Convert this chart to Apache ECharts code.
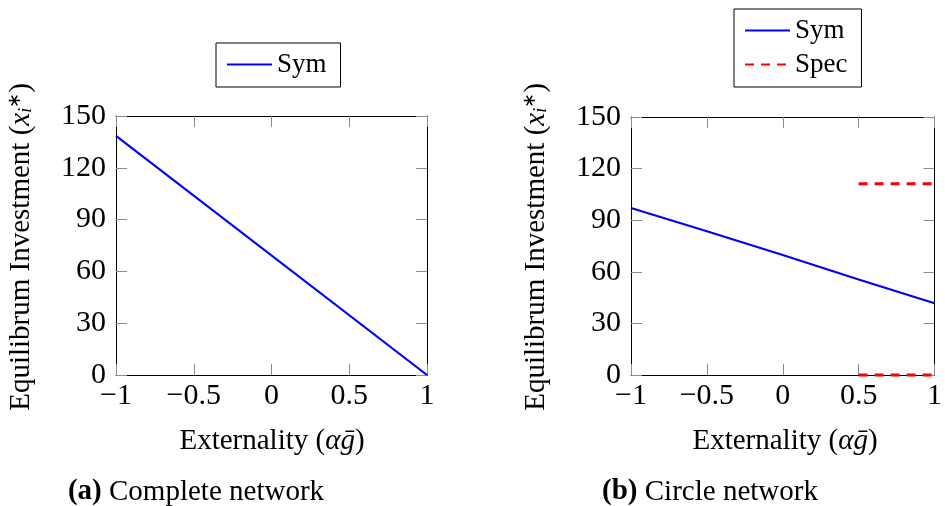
<!DOCTYPE html>
<html>
<head>
<meta charset="utf-8">
<script src="https://cdn.jsdelivr.net/npm/echarts@6/dist/echarts.min.js"></script>
<style>
html,body{margin:0;padding:0;background:#fff;}
#c{width:945px;height:506px;}
</style>
</head>
<body>
<div id="c"></div>
<script>
// ---- data ----
const xMin = -1, xMax = 1, xStep = 0.5;
const yMin = 0, yMax = 150, yStep = 30;

const completeX = [-1, 1];
const completeSym = [138.5, 0];

const circleX = [-1, -0.5, 0, 0.5, 1];
const circleSym = [97.1, 83.6, 69.8, 55.5, 41.7];

const specX = [0.5, 1];
const specHigh = [111.2, 111.2];
const specLow = [0, 0];

const captions = [['(a)', 'Complete network'], ['(b)', 'Circle network']];
const xLabel = 'Externality';
const yLabel = 'Equilibrum Investment';

// ---- helpers ----
const FONT = '"Liberation Serif", "Times New Roman", serif';
const pairs = (xs, ys) => xs.map((x, i) => [x, ys[i]]);
const fmt = v => (v < 0 ? '\u2212' + Math.abs(v) : String(v));

const grids = [
  { left: 116, top: 116, width: 311, height: 259 },
  { left: 631, top: 117, width: 311, height: 258 }
];

const xAxes = [], yAxes = [];
grids.forEach((g, gi) => {
  xAxes.push({
    type: 'value', gridIndex: gi, min: xMin, max: xMax, interval: xStep, position: 'bottom',
    axisLine: { show: true, onZero: false, lineStyle: { color: '#000', width: 1 } },
    axisTick: { show: true, inside: true, length: 11, lineStyle: { color: '#8c8c8c', width: 1 } },
    axisLabel: { show: true, margin: 6, color: '#000', fontFamily: FONT, fontSize: 30, formatter: fmt, showMinLabel: true, showMaxLabel: true },
    splitLine: { show: false }
  });
  xAxes.push({
    type: 'value', gridIndex: gi, min: xMin, max: xMax, interval: xStep, position: 'top',
    axisLine: { show: true, onZero: false, lineStyle: { color: '#000', width: 1 } },
    axisTick: { show: true, inside: true, length: 11, lineStyle: { color: '#8c8c8c', width: 1 } },
    axisLabel: { show: false }, splitLine: { show: false }
  });
  yAxes.push({
    type: 'value', gridIndex: gi, min: yMin, max: yMax, interval: yStep, position: 'left',
    axisLine: { show: true, onZero: false, lineStyle: { color: '#000', width: 1 } },
    axisTick: { show: true, inside: true, length: 11, lineStyle: { color: '#8c8c8c', width: 1 } },
    axisLabel: { show: true, margin: 10, color: '#000', fontFamily: FONT, fontSize: 30, showMinLabel: true, showMaxLabel: true },
    splitLine: { show: false }
  });
  yAxes.push({
    type: 'value', gridIndex: gi, min: yMin, max: yMax, interval: yStep, position: 'right',
    axisLine: { show: true, onZero: false, lineStyle: { color: '#000', width: 1 } },
    axisTick: { show: true, inside: true, length: 11, lineStyle: { color: '#8c8c8c', width: 1 } },
    axisLabel: { show: false }, splitLine: { show: false }
  });
});

const blueLine = { color: '#0000ff', width: 2.2, type: 'solid' };
const redLine = { color: '#ff0000', width: 3, type: [9, 7] };

const series = [
  { name: 'Sym', type: 'line', xAxisIndex: 0, yAxisIndex: 0, data: pairs(completeX, completeSym),
    showSymbol: false, symbol: 'none', lineStyle: blueLine, itemStyle: { color: '#0000ff' }, clip: false, silent: true, animation: false },
  { name: 'Sym', type: 'line', xAxisIndex: 2, yAxisIndex: 2, data: pairs(circleX, circleSym),
    showSymbol: false, symbol: 'none', lineStyle: blueLine, itemStyle: { color: '#0000ff' }, clip: false, silent: true, animation: false },
  { name: 'Spec', type: 'line', xAxisIndex: 2, yAxisIndex: 2, data: pairs(specX, specHigh),
    showSymbol: false, symbol: 'none', lineStyle: redLine, itemStyle: { color: '#ff0000' }, clip: false, silent: true, animation: false },
  { name: 'Spec', type: 'line', xAxisIndex: 2, yAxisIndex: 2, data: pairs(specX, specLow),
    showSymbol: false, symbol: 'none', lineStyle: redLine, itemStyle: { color: '#ff0000' }, clip: false, silent: true, animation: false, z: 5 }
];

const legendText = { fontFamily: FONT, fontSize: 27, color: '#000' };
const legends = [
  { data: ['Sym'], left: 216, top: 43, orient: 'horizontal', padding: [8, 14, 9, 10],
    borderColor: '#000', borderWidth: 1, itemWidth: 45, itemHeight: 14, textStyle: legendText, selectedMode: false,
    itemStyle: { opacity: 0 } },
  { data: ['Sym', 'Spec'], left: 734, top: 9, orient: 'vertical', padding: [8, 14, 9, 10], itemGap: 7,
    borderColor: '#000', borderWidth: 1, itemWidth: 45, itemHeight: 14, textStyle: legendText, selectedMode: false,
    itemStyle: { opacity: 0 } }
];

const FS = 29;
const rich = {
  n: { fontFamily: FONT, fontSize: FS, color: '#000' },
  it: { fontFamily: FONT, fontSize: FS, fontStyle: 'italic', color: '#000' },
  sup: { fontFamily: FONT, fontSize: 18, color: '#000', verticalAlign: 'top', padding: [0, 0, 10, 0] },
  sub: { fontFamily: FONT, fontSize: 18, fontStyle: 'italic', color: '#000', verticalAlign: 'bottom', padding: [8, 0, 0, 0] },
  b: { fontFamily: FONT, fontSize: FS, fontWeight: 'bold', color: '#000' }
};

function textEl(x, y, text, rot) {
  return {
    type: 'text', x: x, y: y, rotation: rot || 0, silent: true,
    style: { text: text, rich: rich, align: 'center', verticalAlign: 'middle', fill: '#000', font: FS + 'px ' + FONT }
  };
}

const xName = '{n|' + xLabel + ' (}{it|\u03b1\u1e21}{n|)}';
const yName = '{n|' + yLabel + ' (}{it|x}{sub|i}{sup|\u2217}{n|)}';

const graphic = [
  textEl(272, 441, xName),
  textEl(785, 441, xName),
  textEl(21, 247, yName, Math.PI / 2),
  textEl(536, 247, yName, Math.PI / 2),
  textEl(196, 492, '{b|' + captions[0][0] + '} {n|' + captions[0][1] + '}'),
  textEl(710, 492, '{b|' + captions[1][0] + '} {n|' + captions[1][1] + '}')
];

const chart = echarts.init(document.getElementById('c'), null, { renderer: 'canvas' });
chart.setOption({
  animation: false,
  backgroundColor: '#fff',
  grid: grids,
  xAxis: xAxes,
  yAxis: yAxes,
  legend: legends,
  series: series,
  graphic: graphic
});
</script>
</body>
</html>
